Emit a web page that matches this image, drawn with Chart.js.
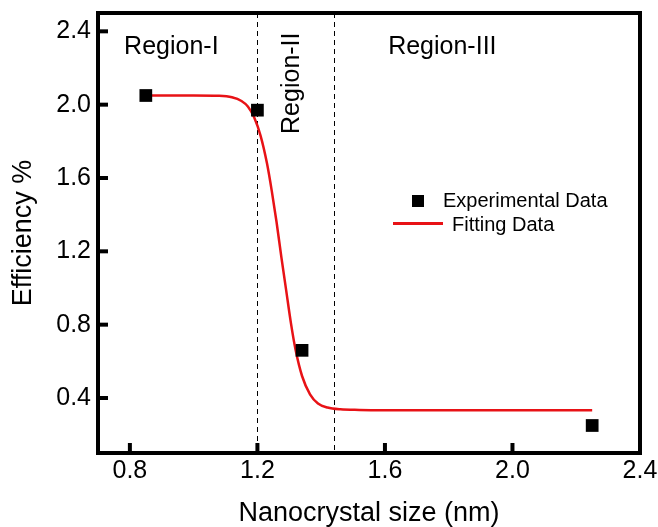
<!DOCTYPE html>
<html>
<head>
<meta charset="utf-8">
<script src="https://cdn.jsdelivr.net/npm/chart.js@4.4.0/dist/chart.umd.min.js"></script>
<style>
  html, body { margin: 0; padding: 0; background: #fff; }
  #wrap { width: 658px; height: 527px; }
</style>
</head>
<body>
<div id="wrap"><canvas id="c" width="658" height="527"></canvas></div>
<script>
// ---- data ----
const expX = [0.85, 1.20, 1.34, 2.25];
const expY = [2.05, 1.97, 0.66, 0.25];

const fitX = [0.85, 1.00, 1.08, 1.12, 1.15, 1.17, 1.19, 1.21, 1.23, 1.245, 1.26, 1.275, 1.29, 1.305, 1.32, 1.34, 1.365, 1.39, 1.42, 1.46, 1.52, 1.70, 2.00, 2.25];
const fitY = [2.05, 2.05, 2.048, 2.04, 2.02, 1.99, 1.93, 1.83, 1.68, 1.53, 1.36, 1.17, 0.99, 0.81, 0.66, 0.52, 0.42, 0.37, 0.348, 0.338, 0.335, 0.333, 0.333, 0.333];

const xTicks = [0.8, 1.2, 1.6, 2.0, 2.4];
const yTicks = [0.4, 0.8, 1.2, 1.6, 2.0, 2.4];

const regionBounds = [1.2, 1.44];
const regionNames = ['Region-I', 'Region-II', 'Region-III'];

const seriesNames = ['Experimental Data', 'Fitting Data'];
const xTitle = 'Nanocrystal size (nm)';
const yTitle = 'Efficiency %';

// ---- styling / layout ----
const FONT = "'Liberation Sans', Arial, sans-serif";
const RED = 'rgb(232,18,22)';
const regionLabelPos = [
  { x: 0.93, y: 2.313, rot: 0 },
  { x: 1.308, y: 2.117, rot: -Math.PI / 2 },
  { x: 1.78, y: 2.313, rot: 0 }
];

const overlay = {
  id: 'overlay',
  beforeDatasetsDraw(chart) {
    const { ctx, chartArea: a, scales: { x, y } } = chart;
    ctx.save();
    ctx.setLineDash([5, 4]);
    ctx.lineWidth = 1;
    ctx.strokeStyle = '#000';
    regionBounds.forEach(v => {
      const px = Math.round(x.getPixelForValue(v)) + 0.5;
      ctx.beginPath();
      ctx.moveTo(px, a.top);
      ctx.lineTo(px, a.bottom);
      ctx.stroke();
    });
    ctx.setLineDash([]);
    ctx.fillStyle = '#000';
    ctx.font = '25px ' + FONT;
    ctx.textAlign = 'center';
    ctx.textBaseline = 'middle';
    regionNames.forEach((t, i) => {
      const p = regionLabelPos[i];
      ctx.save();
      ctx.translate(x.getPixelForValue(p.x), y.getPixelForValue(p.y));
      ctx.rotate(p.rot);
      ctx.fillText(t, 0, 0);
      ctx.restore();
    });
    ctx.restore();
  },
  afterDatasetsDraw(chart) {
    const { ctx, chartArea: a, scales: { x, y } } = chart;
    ctx.save();
    // frame
    ctx.strokeStyle = '#000';
    ctx.lineWidth = 4;
    ctx.strokeRect(a.left, a.top, a.right - a.left, a.bottom - a.top);
    // inward ticks
    ctx.lineWidth = 4;
    yTicks.forEach(v => {
      const py = y.getPixelForValue(v);
      ctx.beginPath(); ctx.moveTo(a.left, py); ctx.lineTo(a.left + 10, py); ctx.stroke();
    });
    xTicks.forEach(v => {
      const px = x.getPixelForValue(v);
      ctx.beginPath(); ctx.moveTo(px, a.bottom); ctx.lineTo(px, a.bottom - 10); ctx.stroke();
    });
    // legend
    ctx.fillStyle = '#000';
    ctx.fillRect(412, 195, 12, 12);
    ctx.font = '20px ' + FONT;
    ctx.textAlign = 'left';
    ctx.textBaseline = 'middle';
    ctx.fillText(seriesNames[0], 443, 201);
    ctx.strokeStyle = RED;
    ctx.lineWidth = 3;
    ctx.beginPath(); ctx.moveTo(393, 223.5); ctx.lineTo(443, 223.5); ctx.stroke();
    ctx.fillText(seriesNames[1], 452, 225);
    ctx.restore();
  }
};

new Chart(document.getElementById('c'), {
  type: 'scatter',
  data: {
    datasets: [
      {
        label: seriesNames[1],
        type: 'line',
        data: fitX.map((v, i) => ({ x: v, y: fitY[i] })),
        borderColor: RED,
        borderWidth: 2.5,
        pointRadius: 0,
        fill: false,
        cubicInterpolationMode: 'monotone',
        order: 2
      },
      {
        label: seriesNames[0],
        data: expX.map((v, i) => ({ x: v, y: expY[i] })),
        pointStyle: 'rect',
        pointRadius: 9,
        pointHoverRadius: 9,
        backgroundColor: '#000',
        borderColor: '#000',
        borderWidth: 0,
        order: 1
      }
    ]
  },
  options: {
    responsive: false,
    animation: false,
    events: [],
    layout: { padding: { top: 13, right: 18, left: 0, bottom: 0 } },
    plugins: { legend: { display: false }, tooltip: { enabled: false } },
    scales: {
      x: {
        type: 'linear',
        min: 0.7,
        max: 2.4,
        afterBuildTicks: s => { s.ticks = xTicks.map(v => ({ value: v })); },
        afterFit: s => { s.height = 74; s.paddingLeft = 0; s.paddingRight = 0; s.paddingTop = 0; s.paddingBottom = 0; },
        grid: { display: false, drawTicks: false },
        border: { display: false },
        ticks: {
          color: '#000',
          font: { family: FONT, size: 25 },
          padding: 3,
          maxRotation: 0,
          callback: v => Number(v).toFixed(1)
        },
        title: {
          display: true,
          text: xTitle,
          color: '#000',
          font: { family: FONT, size: 27, lineHeight: 1 },
          padding: { top: 0, bottom: 0 }
        }
      },
      y: {
        type: 'linear',
        min: 0.1,
        max: 2.5,
        afterBuildTicks: s => { s.ticks = yTicks.map(v => ({ value: v })); },
        afterFit: s => { s.width = 98; s.paddingLeft = 0; s.paddingRight = 0; s.paddingTop = 0; s.paddingBottom = 0; },
        grid: { display: false, drawTicks: false },
        border: { display: false },
        ticks: {
          color: '#000',
          font: { family: FONT, size: 25 },
          padding: 7,
          callback: v => Number(v).toFixed(1)
        },
        title: {
          display: true,
          text: yTitle,
          color: '#000',
          font: { family: FONT, size: 27, lineHeight: 1 },
          padding: { top: 10, bottom: 0 }
        }
      }
    }
  },
  plugins: [overlay]
});
</script>
</body>
</html>
